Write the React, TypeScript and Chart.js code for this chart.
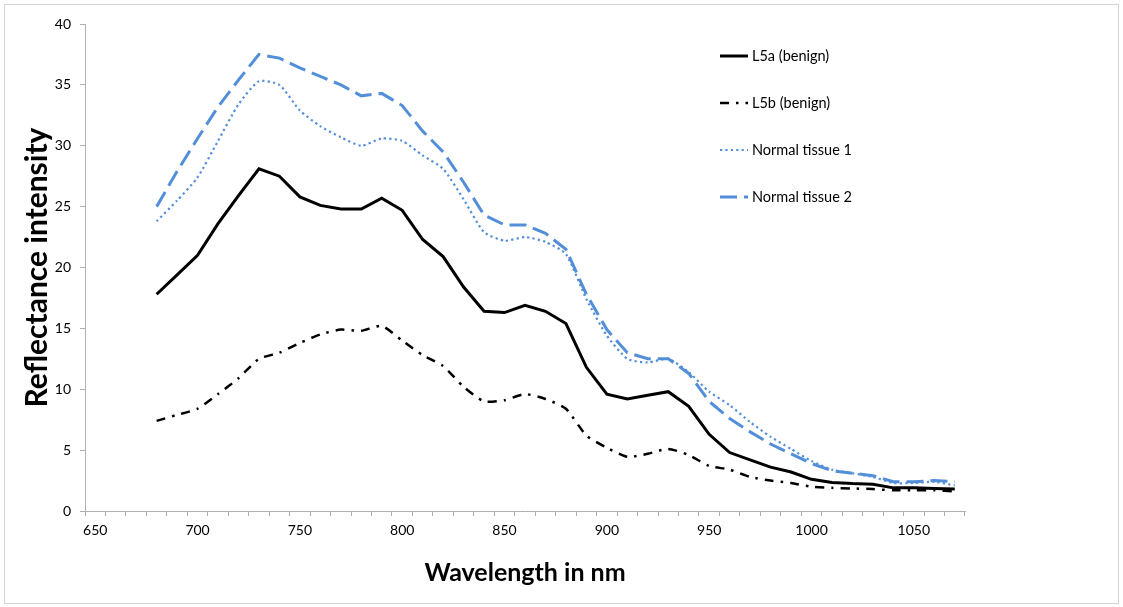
import { useEffect, useRef } from "react";
import { Chart, registerables } from "chart.js";

Chart.register(...registerables);

// Category axis (nm)
const wavelengths = [
  650, 660, 670, 680, 690, 700, 710, 720, 730, 740, 750, 760, 770, 780, 790,
  800, 810, 820, 830, 840, 850, 860, 870, 880, 890, 900, 910, 920, 930, 940,
  950, 960, 970, 980, 990, 1000, 1010, 1020, 1030, 1040, 1050, 1060, 1070,
];
const xTickLabels = ["650", "700", "750", "800", "850", "900", "950", "1000", "1050"];

const seriesNames = ["L5a (benign)", "L5b (benign)", "Normal tissue 1", "Normal tissue 2"];

// values for 650..1070 (no measurements below 680)
const l5a = [
  null, null, null,
  17.8, 19.4, 21.0, 23.6, 25.9, 28.1, 27.5, 25.8, 25.1, 24.8,
  24.8, 25.7, 24.7, 22.3, 20.9, 18.4, 16.4, 16.3, 16.9, 16.4,
  15.4, 11.8, 9.6, 9.2, 9.5, 9.8, 8.6, 6.3, 4.8, 4.2,
  3.6, 3.2, 2.6, 2.35, 2.25, 2.2, 1.9, 1.9, 1.85, 1.8,
];
const l5b = [
  null, null, null,
  7.4, 7.9, 8.4, 9.6, 10.9, 12.5, 13.0, 13.8, 14.5, 14.9,
  14.8, 15.2, 14.0, 12.8, 11.9, 10.2, 9.0, 9.1, 9.6, 9.2,
  8.4, 6.2, 5.2, 4.45, 4.7, 5.1, 4.6, 3.7, 3.4, 2.8,
  2.5, 2.3, 2.0, 1.9, 1.85, 1.8, 1.7, 1.7, 1.7, 1.6,
];
const normal1 = [
  null, null, null,
  23.8, 25.5, 27.4, 30.4, 33.4, 35.3, 35.0, 32.9, 31.6, 30.7,
  30.0, 30.6, 30.4, 29.2, 28.1, 25.6, 22.9, 22.2, 22.5, 22.1,
  21.1, 17.4, 14.4, 12.5, 12.2, 12.5, 11.4, 9.8, 8.7, 7.3,
  6.1, 5.1, 4.1, 3.4, 3.1, 2.8, 2.3, 2.3, 2.4, 2.1,
];
const normal2 = [
  null, null, null,
  25.0, 27.9, 30.6, 33.2, 35.4, 37.5, 37.2, 36.4, 35.7, 35.0,
  34.1, 34.3, 33.3, 31.2, 29.5, 27.0, 24.3, 23.5, 23.5, 22.8,
  21.5, 17.8, 14.9, 13.0, 12.5, 12.5, 11.3, 9.0, 7.6, 6.5,
  5.5, 4.7, 3.9, 3.3, 3.1, 2.9, 2.4, 2.4, 2.5, 2.4,
];

const BLUE = "#538fd8";
const AXIS = "#b0b0b0";
const FONT = "Lato";

const framePlugin = {
  id: "frame",
  beforeDraw(chart: any) {
    const { ctx, width, height } = chart;
    ctx.save();
    ctx.fillStyle = "#ffffff";
    ctx.fillRect(0, 0, width, height);
    ctx.strokeStyle = "#d4d4d4";
    ctx.lineWidth = 1;
    ctx.strokeRect(4.5, 4.5, width - 9, height - 8);
    ctx.restore();
  },
};

const legendPlugin = {
  id: "customLegend",
  afterDraw(chart: any) {
    const { ctx } = chart;
    ctx.save();
    chart.data.datasets.forEach((ds: any, i: number) => {
      const y = 56 + i * 47;
      ctx.beginPath();
      ctx.strokeStyle = ds.borderColor;
      ctx.lineWidth = ds.borderWidth;
      ctx.setLineDash(ds.borderDash || []);
      ctx.lineCap = "butt";
      ctx.moveTo(720, y);
      ctx.lineTo(748, y);
      ctx.stroke();
      ctx.setLineDash([]);
      ctx.fillStyle = "#000";
      ctx.font = `14.5px ${FONT}`;
      ctx.textBaseline = "middle";
      ctx.textAlign = "left";
      ctx.fillText(ds.label, 752, y);
    });
    ctx.restore();
  },
};

export default function App() {
  const ref = useRef<HTMLCanvasElement>(null);
  useEffect(() => {
    const prev = document.body.style.margin;
    document.body.style.margin = "0";
    const chart = new Chart(ref.current as HTMLCanvasElement, {
      type: "line",
      data: {
        labels: wavelengths.map(String),
        datasets: [
          {
            label: seriesNames[0],
            data: l5a,
            borderColor: "#000000",
            borderWidth: 3,
            tension: 0,
            pointRadius: 0,
          },
          {
            label: seriesNames[1],
            data: l5b,
            borderColor: "#000000",
            borderWidth: 2.5,
            borderDash: [9, 7, 2.5, 7],
            tension: 0.2,
            pointRadius: 0,
          },
          {
            label: seriesNames[2],
            data: normal1,
            borderColor: BLUE,
            borderWidth: 2.2,
            borderDash: [2.2, 3.2],
            tension: 0.2,
            pointRadius: 0,
          },
          {
            label: seriesNames[3],
            data: normal2,
            borderColor: BLUE,
            borderWidth: 3,
            borderDash: [17, 7],
            tension: 0,
            pointRadius: 0,
          },
        ],
      } as any,
      options: {
        responsive: false,
        animation: false,
        events: [],
        layout: { padding: { left: 0, top: 24, right: 158, bottom: 0 } },
        plugins: { legend: { display: false }, tooltip: { enabled: false } },
        scales: {
          x: {
            type: "category",
            offset: true,
            grid: { offset: true, drawOnChartArea: false, drawTicks: true, tickLength: 5, color: AXIS },
            border: { color: AXIS, width: 1 },
            ticks: {
              autoSkip: false,
              maxRotation: 0,
              minRotation: 0,
              padding: 6,
              color: "#000",
              font: { family: FONT, size: 14 },
              callback: (_v: any, i: number) => {
                const s = String(wavelengths[i]);
                return xTickLabels.includes(s) ? s : "";
              },
            },
            title: {
              display: true,
              text: "Wavelength in nm",
              color: "#000",
              font: { family: FONT, size: 25, weight: "bold" },
              padding: { top: 0, bottom: 19 },
            },
            afterFit: (s: any) => {
              s.height = 96;
            },
          },
          y: {
            min: 0,
            max: 40,
            grid: { drawOnChartArea: false, drawTicks: true, tickLength: 5, color: AXIS },
            border: { color: AXIS, width: 1 },
            ticks: {
              stepSize: 5,
              padding: 9,
              color: "#000",
              font: { family: FONT, size: 14 },
            },
            title: {
              display: true,
              text: "Reflectance intensity",
              color: "#000",
              font: { family: FONT, size: 30, weight: "bold" },
              padding: { top: 19, bottom: 0 },
            },
            afterFit: (s: any) => {
              s.width = 85;
            },
          },
        },
      } as any,
      plugins: [framePlugin, legendPlugin],
    });
    return () => {
      chart.destroy();
      document.body.style.margin = prev;
    };
  }, []);
  return (
    <div style={{ width: 1123, height: 607 }}>
      <canvas ref={ref} width={1123} height={607} style={{ display: "block" }} />
    </div>
  );
}
